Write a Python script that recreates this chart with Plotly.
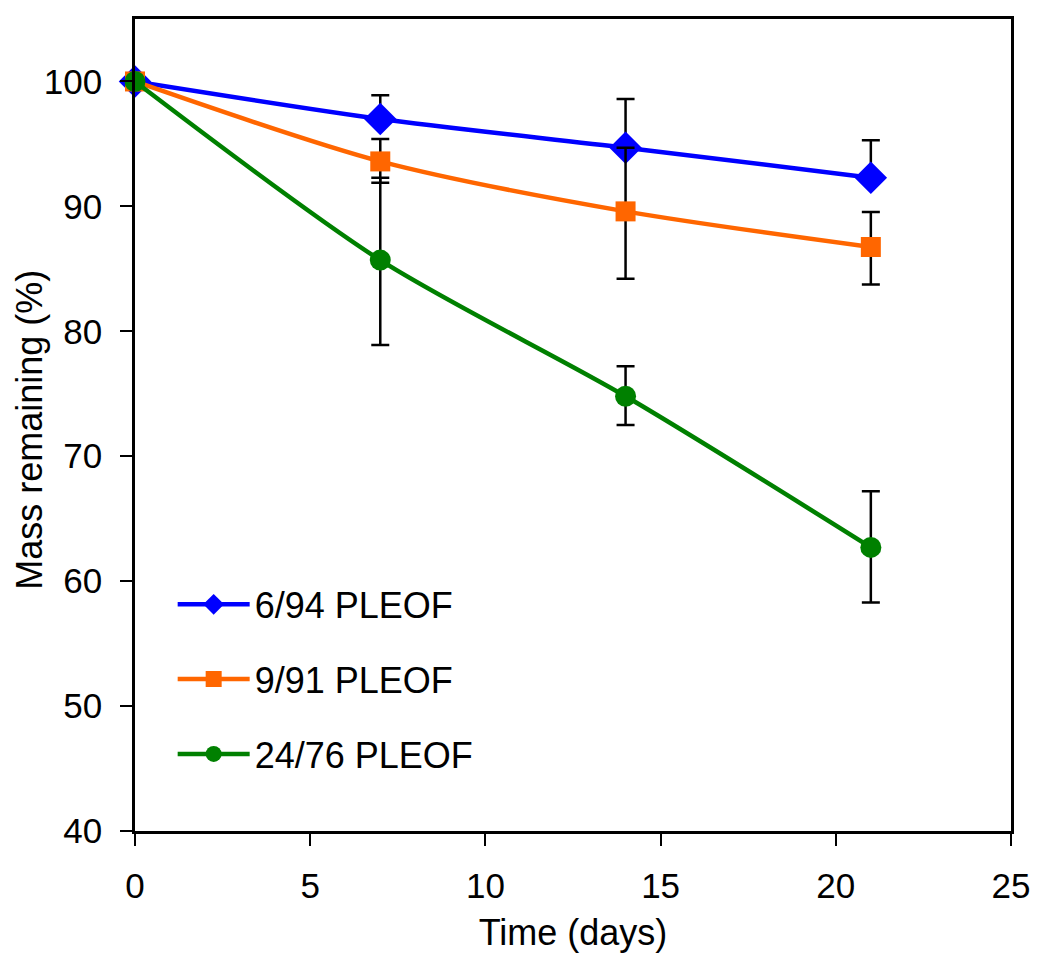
import plotly.graph_objects as go

days = [0, 7, 14, 21]

names = ["6/94 PLEOF", "9/91 PLEOF", "24/76 PLEOF"]

mass_6_94 = [100, 97.0, 94.7, 92.3]
err_plus_6_94 = [0, 1.9, 3.9, 3.0]
err_minus_6_94 = [0, 0, 0, 0]

mass_9_91 = [100, 93.6, 89.6, 86.75]
err_plus_9_91 = [0, 1.8, 5.1, 2.8]
err_minus_9_91 = [0, 1.7, 5.4, 3.0]

mass_24_76 = [100, 85.7, 74.8, 62.7]
err_plus_24_76 = [0, 6.6, 2.4, 4.5]
err_minus_24_76 = [0, 6.8, 2.3, 4.4]

x_title = "Time (days)"
y_title = "Mass remaining (%)"

FONT = "Arial, Liberation Sans, sans-serif"

series = [
    (names[0], mass_6_94, err_plus_6_94, err_minus_6_94, "#0000FF", "diamond", 25),
    (names[1], mass_9_91, err_plus_9_91, err_minus_9_91, "#FF6600", "square", 20),
    (names[2], mass_24_76, err_plus_24_76, err_minus_24_76, "#008000", "circle", 21),
]

fig = go.Figure()
for i, (nm, vals, ep, em, col, sym, sz) in enumerate(series):
    fig.add_trace(go.Scatter(
        x=days, y=vals, name=nm, mode="lines+markers",
        line=dict(color=col, width=4.5, shape="spline", smoothing=0.8),
        marker=dict(color=col, symbol=sym, size=sz),
        error_y=dict(type="data", symmetric=False, array=ep, arrayminus=em,
                     color="black", thickness=2.5, width=9),
        cliponaxis=False,
        legendgroup=f"g{i}",
    ))

fig.add_annotation(text=y_title, xref="paper", yref="paper",
                   x=-0.12, y=0.494, xanchor="center", yanchor="middle",
                   textangle=-90, showarrow=False, font=dict(size=36))

fig.update_layout(
    width=1050, height=963,
    margin=dict(l=127, r=47, t=11, b=140, autoexpand=False),
    plot_bgcolor="white", paper_bgcolor="white",
    font=dict(family=FONT, size=35, color="black"),
    showlegend=True,
    legend=dict(x=0.043, y=0.316, xanchor="left", yanchor="top",
                bgcolor="rgba(0,0,0,0)", tracegroupgap=25,
                font=dict(size=36), itemsizing="trace", itemwidth=72),
    xaxis=dict(range=[0, 25], tickvals=[0, 5, 10, 15, 20, 25],
               showgrid=False, zeroline=False, automargin=False,
               showline=True, linecolor="black", linewidth=2.5, mirror=True,
               ticks="outside", ticklen=12, tickwidth=1.5, tickcolor="black",
               ticklabelstandoff=10,
               title=dict(text=x_title, standoff=17, font=dict(size=36))),
    yaxis=dict(range=[40, 105], tickvals=[40, 50, 60, 70, 80, 90, 100],
               showgrid=False, zeroline=False, automargin=False,
               showline=True, linecolor="black", linewidth=2.5, mirror=True,
               ticks="outside", ticklen=12, tickwidth=1.5, tickcolor="black",
               ticklabelstandoff=11),
)

fig.write_html("out.html")
